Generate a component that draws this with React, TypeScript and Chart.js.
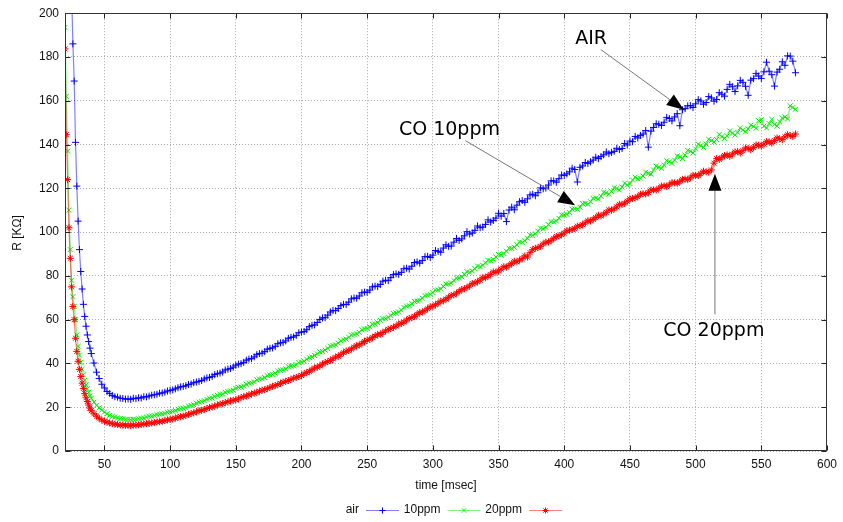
import { useEffect, useRef } from 'react';
import { Chart, registerables } from 'chart.js';

Chart.register(...registerables);

// ---- data (time in msec, resistance in KΩ) ----
const times = [
  20, 21, 22, 23, 24, 25, 26, 27, 28, 29, 30, 31, 32, 33, 34, 35, 36, 37, 38, 39, 40,
  42, 44, 46, 48, 50, 52, 54, 56, 58, 60, 62, 64, 66, 68, 70, 72, 74, 76, 78, 80, 82, 84, 86, 88, 90,
  92, 94, 96, 98, 100, 102, 104, 106, 108, 110, 112, 114, 116, 118, 120, 122, 124, 126, 128, 130, 132, 134, 136, 138, 140,
  142, 144, 146, 148, 150, 152, 154, 156, 158, 160, 162, 164, 166, 168, 170, 172, 174, 176, 178, 180, 182, 184, 186, 188, 190,
  192, 194, 196, 198, 200, 202, 204, 206, 208, 210, 212, 214, 216, 218, 220, 222, 224, 226, 228, 230, 232, 234, 236, 238, 240,
  242, 244, 246, 248, 250, 252, 254, 256, 258, 260, 262, 264, 266, 268, 270, 272, 274, 276, 278, 280, 282, 284, 286, 288, 290,
  292, 294, 296, 298, 300, 302, 304, 306, 308, 310, 312, 314, 316, 318, 320, 322, 324, 326, 328, 330, 332, 334, 336, 338, 340,
  342, 344, 346, 348, 350, 352, 354, 356, 358, 360, 362, 364, 366, 368, 370, 372, 374, 376, 378, 380, 382, 384, 386, 388, 390,
  392, 394, 396, 398, 400, 402, 404, 406, 408, 410, 412, 414, 416, 418, 420, 422, 424, 426, 428, 430, 432, 434, 436, 438, 440,
  442, 444, 446, 448, 450, 452, 454, 456, 458, 460, 462, 464, 466, 468, 470, 472, 474, 476, 478, 480, 482, 484, 486, 488, 490,
  492, 494, 496, 498, 500, 502, 504, 506, 508, 510, 512, 514, 516, 518, 520, 522, 524, 526, 528, 530, 532, 534, 536, 538, 540,
  542, 544, 546, 548, 550, 552, 554, 556, 558, 560, 562, 564, 566, 568, 570, 572, 574, 576,
];

const airValues = [
  330, 300, 272, 248, 228, 210, 186, 169, 141, 121, 105, 92, 82, 74, 67, 61.5, 57, 53, 50, 47, 44.5,
  40.2, 36, 33.1, 30.5, 28.8, 27.2, 26.3, 25.4, 24.8, 24.6, 24.1, 24, 23.7, 23.8, 23.6, 24.1, 23.9, 24.3, 24.2, 24.8, 24.7, 25.1, 25.5, 25.7, 25.9,
  26.4, 26.5, 26.9, 27.4, 27.7, 27.9, 28.4, 28.9, 29.3, 29.5, 29.8, 30.4, 30.6, 31.2, 31.5, 31.8, 32.2, 32.9, 33.4, 33.6, 34.1, 34.9, 35.3, 35.6, 36.1,
  37, 37.4, 37.7, 38.3, 39.2, 39.7, 39.9, 40.5, 41.5, 42, 42.2, 43, 44, 44.5, 44.7, 45.4, 46.5, 46.9, 47.1, 47.8, 49, 49.4, 49.6, 50.3, 51.5,
  51.9, 52.1, 52.8, 54, 54.3, 54.6, 55.4, 56.8, 57.4, 57.6, 58.7, 60.1, 60.8, 60.9, 62.1, 63.5, 64.2, 64.1, 65.1, 66.4, 67, 66.9, 68, 69.5, 69.9,
  69.8, 70.8, 72.3, 72.6, 72.5, 73.5, 75, 75.3, 75.1, 76.1, 77.6, 78, 77.8, 79.2, 80.6, 80.9, 80.7, 81.6, 83.3, 83.5, 83.1, 84.4, 86.1, 86.4, 85.8,
  87, 88.8, 88.9, 88.4, 89.5, 91.6, 91.2, 90.8, 92.7, 94.2, 93.5, 93.6, 95.4, 97.1, 96.2, 96.9, 98.3, 100.2, 99.1, 99.6, 100.8, 102.8, 102, 102.3, 103.5,
  105.6, 104.6, 105.3, 106.4, 108.6, 107.3, 108.5, 104.8, 110.1, 111.4, 110.2, 112.3, 113.9, 114.4, 113.6, 115.2, 117, 117.3, 116.6, 118, 120.2, 119.8, 120.1, 121.5, 123.4,
  123.4, 122.8, 124.4, 126.1, 125.9, 126.6, 127.5, 129.2, 128.6, 122.9, 129.6, 130.2, 131.8, 131.3, 132.1, 132.9, 134.2, 133.6, 134.5, 135.3, 136.6, 135.8, 136.4, 136.9, 138.3,
  137.7, 138.2, 140.5, 139.8, 141.6, 141.3, 143.7, 143, 144.2, 144.8, 146.4, 138.8, 146.1, 147.8, 149.5, 149.3, 148.7, 150.2, 152.4, 151.9, 150.8, 152.6, 154.1, 148.6, 155.9,
  156.4, 157.7, 157.8, 156.9, 158.6, 160.5, 159.9, 158.4, 159.2, 161.9, 161.3, 159.8, 160.6, 163.7, 163, 162.1, 165.2, 167.5, 166.4, 164.2, 166.8, 169.3, 168.4, 166.6, 162.5,
  169.4, 170.1, 172.5, 171.3, 170.2, 173.2, 177.6, 173.5, 171.9, 166.7, 173.1, 174.4, 177.8, 176.2, 180.5, 180.4, 178.1, 172.8,
];

const ppm10Values = [
  193.5, 162, 137, 110, 92, 78, 70.5, 66, 60, 53, 47.8, 43.8, 40.5, 37.3, 34.8, 32.3, 30.2, 28.4, 26.8, 25.3, 24.1,
  22.3, 20.9, 19.7, 18.7, 17.8, 17, 16.3, 15.8, 15.4, 15.1, 14.8, 14.7, 14.5, 14.4, 14.3, 14.5, 14.5, 14.7, 14.9, 15.1, 15.5, 15.8, 15.9, 16.2, 16.6,
  16.8, 16.9, 17.2, 17.7, 17.9, 18.1, 18.5, 19.1, 19.3, 19.5, 19.8, 20.5, 20.8, 21.1, 21.8, 22.3, 22.5, 23, 23.6, 24.1, 24.2, 24.9, 25.4, 25.9, 26,
  26.8, 27.2, 27.5, 27.8, 28.6, 29.1, 29.2, 29.7, 30.5, 31, 31.1, 31.6, 32.5, 32.9, 33, 33.5, 34.4, 34.8, 35, 35.5, 36.5, 36.9, 37.1, 37.5, 38.5,
  38.8, 38.9, 39.4, 40.4, 40.6, 41, 41.9, 42.7, 43, 43.6, 44.4, 45.3, 45.5, 46.1, 46.9, 47.9, 48.2, 48.5, 49.3, 50.4, 50.8, 51.1, 51.9, 53, 53.2,
  53.5, 54.2, 55.4, 55.8, 56, 56.7, 57.9, 58.1, 58.6, 59.7, 60.5, 60.4, 61, 61.9, 62.9, 63, 63.5, 64.4, 65.6, 66.2, 66.4, 67.3, 68.3, 68.6, 68.9,
  69.8, 71, 71.2, 71.5, 72.4, 73.5, 73.6, 74, 75.2, 76.3, 76.3, 76.8, 77.9, 79, 79.1, 79.6, 80.7, 81.9, 81.6, 82.2, 83.3, 84.5, 84.2, 84.8, 86,
  87.1, 86.9, 87.5, 88.6, 89.8, 89.5, 90.2, 91.3, 92.6, 92.5, 93.1, 94.2, 95.5, 95.3, 96.1, 97.2, 98.6, 98.5, 99.2, 100.4, 101.8, 101.5, 102.2, 103.4, 104.8,
  104.6, 105.1, 106.3, 107.9, 107.8, 108.1, 108.9, 110.5, 110.6, 110.4, 111.4, 113, 113.2, 112.7, 113.9, 115.4, 115.6, 115.1, 116.4, 118.2, 117.9, 117.3, 118.6, 120.3, 119.9,
  119.2, 120.6, 122.4, 121.5, 122.2, 123.8, 125.1, 124.3, 124.6, 125.6, 127.4, 126.8, 126.5, 128.4, 130.1, 129.7, 129.2, 130.5, 132.6, 132.1, 131.4, 132.9, 134.8, 134.3, 133.6,
  135.2, 137.3, 136.9, 136.1, 138, 140.1, 139.5, 138.7, 140.2, 142.4, 141.8, 141.1, 142.3, 144.6, 143.6, 142.8, 144, 146.2, 145.2, 144.3, 145.6, 147.6, 146.7, 145.8, 147.1,
  148.9, 148.3, 147.4, 150.9, 151.4, 148.4, 147.6, 149.6, 151.5, 149.2, 148.4, 150.3, 152.1, 152.6, 151.7, 157.7, 156.9, 156.1,
];

const ppm20Values = [
  183.7, 144.5, 124, 102, 88, 75, 66, 60, 51.5, 45.5, 41, 37.3, 34, 31, 28.6, 26.2, 24.3, 22.6, 21, 19.6, 18.4,
  17, 15.9, 14.9, 14.2, 13.6, 13.2, 12.8, 12.5, 12.2, 12.1, 11.9, 11.8, 11.7, 11.7, 11.6, 11.8, 11.8, 12, 12.1, 12.3, 12.5, 12.6, 12.8, 13, 13.3,
  13.4, 13.6, 13.9, 14.2, 14.4, 14.6, 15, 15.4, 15.7, 15.9, 16.3, 16.8, 17.1, 17.4, 17.9, 18.4, 18.6, 18.9, 19.4, 19.9, 20.1, 20.5, 21, 21.4, 21.6,
  22.1, 22.4, 22.9, 23.1, 23.4, 23.8, 24.4, 24.8, 25.1, 25.6, 26.1, 26.4, 26.8, 27.3, 27.8, 28, 28.5, 29, 29.6, 29.9, 30.3, 30.9, 31.5, 31.8, 32.2,
  32.7, 33.3, 33.6, 34, 34.5, 35.3, 35.8, 36.4, 37.2, 37.9, 38.3, 38.9, 39.7, 40.4, 40.8, 41.4, 42.1, 42.9, 43.3, 44, 44.9, 45.6, 45.9, 46.6, 47.4,
  48.1, 48.4, 49.2, 50, 50.7, 51, 51.8, 52.5, 53.2, 53.3, 54.1, 54.8, 55.6, 55.9, 56.5, 57.1, 58, 58.3, 58.9, 59.8, 60.6, 60.9, 61.5, 62.4, 63.2,
  63.5, 64.1, 65, 65.9, 66.1, 66.8, 67.5, 68.4, 68.6, 69.4, 70.2, 71.1, 71.3, 72.1, 72.9, 73.8, 74.1, 74.7, 75.4, 76.5, 76.7, 77.3, 78.1, 79.2, 79.2,
  79.9, 80.7, 81.8, 81.6, 82.3, 83.1, 84.2, 84, 84.8, 85.6, 86.7, 86.4, 87.2, 87.9, 89.1, 88.6, 90.6, 92, 92.6, 92.9, 93.5, 94.6, 95.4, 95.5, 96.1,
  97.1, 98, 98.2, 98.8, 99.6, 100.6, 100.9, 101.2, 101.6, 102.7, 102.8, 103.4, 104.2, 105.2, 105.1, 105.8, 106.6, 107.7, 107.4, 108.2, 109, 110.1, 110, 110.6, 111.5,
  112.7, 112.6, 113.2, 114.1, 115.2, 115.4, 115.6, 116.2, 117.3, 117.5, 117.4, 118.1, 119.2, 119.3, 119.2, 119.9, 121, 121.1, 120.8, 121.6, 122.6, 122.5, 122.3, 123.1, 124.1,
  124.2, 124, 124.8, 125.9, 125.9, 125.8, 126.7, 127.8, 127.5, 127.4, 128.4, 131.5, 133.6, 133.2, 134.1, 135, 135.3, 134.6, 135.6, 136.6, 136.8, 136.1, 137.2, 138.4, 138.3,
  137.6, 138.6, 139.8, 139.7, 139.3, 140.2, 141.3, 141.3, 140.6, 141.8, 143, 142.6, 142.2, 143.5, 144.5, 144.2, 143.7, 144.8,
];

const seriesLabels = ['air', '10ppm', '20ppm'];
const xTickValues = [50, 100, 150, 200, 250, 300, 350, 400, 450, 500, 550, 600];
const yTickValues = [0, 20, 40, 60, 80, 100, 120, 140, 160, 180, 200];
const xTitle = 'time [msec]';
const yTitle = 'R [KΩ]';

// annotation labels and arrows, in data coordinates
const annotationTexts = ['AIR', 'CO 10ppm', 'CO 20ppm'];
const annotationTextAt = [[420.5, 188], [312.6, 146.5], [513.9, 54.9]];
const annotationArrowFrom = [[427.8, 183.4], [324.7, 141.8], [514.7, 62.4]];
const annotationArrowTo = [[491, 155.9], [408.3, 112.3], [514.7, 126.7]];

const SMALL_FONT = '12px "Liberation Sans", Arial, sans-serif';
const BIG_FONT = '19px "DejaVu Sans", sans-serif';

const markerColors = ['#0000ff', '#00ee00', '#ff0000'];
const lineColors = ['rgba(0,0,255,0.5)', 'rgba(0,235,0,0.5)', 'rgba(255,0,0,0.5)'];
const markerStyles = ['cross', 'crossRot', 'star'];

function drawMarker(ctx: CanvasRenderingContext2D, style: string, cx: number, cy: number, r: number) {
  ctx.beginPath();
  if (style === 'cross' || style === 'star') {
    ctx.moveTo(cx - r, cy); ctx.lineTo(cx + r, cy);
    ctx.moveTo(cx, cy - r); ctx.lineTo(cx, cy + r);
  }
  if (style === 'crossRot' || style === 'star') {
    const d = r * 0.7071;
    ctx.moveTo(cx - d, cy - d); ctx.lineTo(cx + d, cy + d);
    ctx.moveTo(cx - d, cy + d); ctx.lineTo(cx + d, cy - d);
  }
  ctx.stroke();
}

const decorPlugin = {
  id: 'decor',
  afterDatasetsDraw(chart: any) {
    const { ctx, chartArea: a, scales } = chart;
    const x = scales.x;
    const y = scales.y;
    ctx.save();
    ctx.strokeStyle = '#222';
    ctx.lineWidth = 1;
    ctx.beginPath();
    const L = Math.round(a.left) + 0.5;
    const R = Math.round(a.right) - 0.5;
    const T = Math.round(a.top) + 0.5;
    const B = Math.round(a.bottom) - 0.5;
    xTickValues.forEach((v) => {
      const px = Math.round(x.getPixelForValue(v)) + 0.5;
      ctx.moveTo(px, B); ctx.lineTo(px, B - 5);
      ctx.moveTo(px, T); ctx.lineTo(px, T + 5);
    });
    yTickValues.forEach((v) => {
      const py = Math.round(y.getPixelForValue(v)) + 0.5;
      ctx.moveTo(L, py); ctx.lineTo(L + 5, py);
      ctx.moveTo(R, py); ctx.lineTo(R - 5, py);
    });
    ctx.stroke();
    ctx.strokeStyle = '#333';
    ctx.strokeRect(L, T, R - L, B - T);

    ctx.font = BIG_FONT;
    ctx.textAlign = 'center';
    ctx.textBaseline = 'middle';
    annotationTexts.forEach((txt, i) => {
      const tx = x.getPixelForValue(annotationTextAt[i][0]);
      const ty = y.getPixelForValue(annotationTextAt[i][1]);
      ctx.fillStyle = '#000';
      ctx.fillText(txt, tx, ty);
      const x0 = x.getPixelForValue(annotationArrowFrom[i][0]);
      const y0 = y.getPixelForValue(annotationArrowFrom[i][1]);
      const x1 = x.getPixelForValue(annotationArrowTo[i][0]);
      const y1 = y.getPixelForValue(annotationArrowTo[i][1]);
      const ang = Math.atan2(y1 - y0, x1 - x0);
      const hl = 17;
      const hw = 6.5;
      const bx = x1 - hl * Math.cos(ang);
      const by = y1 - hl * Math.sin(ang);
      ctx.strokeStyle = '#777';
      ctx.lineWidth = 1;
      ctx.beginPath();
      ctx.moveTo(x0, y0);
      ctx.lineTo(bx, by);
      ctx.stroke();
      ctx.fillStyle = '#000';
      ctx.beginPath();
      ctx.moveTo(x1, y1);
      ctx.lineTo(bx + hw * Math.sin(ang), by - hw * Math.cos(ang));
      ctx.lineTo(bx - hw * Math.sin(ang), by + hw * Math.cos(ang));
      ctx.closePath();
      ctx.fill();
    });
    ctx.restore();
  },
  afterDraw(chart: any) {
    const { ctx, chartArea: a } = chart;
    ctx.save();
    ctx.font = SMALL_FONT;
    ctx.fillStyle = '#111';
    ctx.textAlign = 'center';
    ctx.textBaseline = 'middle';
    ctx.fillText(xTitle, (a.left + a.right) / 2, 486);
    ctx.save();
    ctx.translate(18, 233);
    ctx.rotate(-Math.PI / 2);
    ctx.fillText(yTitle, 0, 0);
    ctx.restore();
    let right = 359;
    const ly = 510;
    chart.data.datasets.forEach((ds: any, i: number) => {
      ctx.textAlign = 'right';
      ctx.fillStyle = '#111';
      ctx.fillText(ds.label, right, ly);
      const s0 = right + 7;
      const s1 = right + 40;
      ctx.strokeStyle = lineColors[i];
      ctx.lineWidth = 1;
      ctx.beginPath();
      ctx.moveTo(s0, ly + 0.5);
      ctx.lineTo(s1, ly + 0.5);
      ctx.stroke();
      ctx.strokeStyle = markerColors[i];
      drawMarker(ctx, markerStyles[i], (s0 + s1) / 2, ly + 0.5, 3);
      right += 81.5;
    });
    ctx.restore();
  },
};

export default function App() {
  const canvasRef = useRef<HTMLCanvasElement | null>(null);

  useEffect(() => {
    const canvas = canvasRef.current;
    if (!canvas) return;
    const series = [airValues, ppm10Values, ppm20Values];
    const chart = new Chart(canvas, {
      type: 'line',
      data: {
        datasets: series.map((vals, i) => ({
          label: seriesLabels[i],
          data: times.map((t, k) => ({ x: t, y: vals[k] })),
          borderColor: lineColors[i],
          borderWidth: 1.2,
          pointStyle: markerStyles[i] as any,
          pointRadius: 3.5,
          pointHoverRadius: 3.5,
          pointBorderWidth: 1,
          pointBorderColor: markerColors[i],
          pointBackgroundColor: markerColors[i],
          tension: 0,
          order: 2 - i,
        })),
      },
      options: {
        responsive: false,
        animation: false,
        events: [],
        layout: { padding: { top: 10, right: 15, left: 0, bottom: 0 } },
        plugins: { legend: { display: false }, tooltip: { enabled: false } },
        scales: {
          x: {
            type: 'linear',
            min: 20,
            max: 600,
            afterBuildTicks: (scale: any) => {
              scale.ticks = xTickValues.map((v) => ({ value: v }));
            },
            afterFit: (scale: any) => {
              scale.height = 71;
            },
            ticks: {
              font: { family: '"Liberation Sans", Arial, sans-serif', size: 12 },
              color: '#111',
              padding: 6,
              maxRotation: 0,
              autoSkip: false,
            },
            grid: { color: '#a8a8a8', drawTicks: false, lineWidth: 1 },
            border: { display: false, dash: [1, 2] },
          },
          y: {
            type: 'linear',
            min: 0,
            max: 200,
            afterBuildTicks: (scale: any) => {
              scale.ticks = yTickValues.map((v) => ({ value: v }));
            },
            afterFit: (scale: any) => {
              scale.width = 65;
            },
            ticks: {
              font: { family: '"Liberation Sans", Arial, sans-serif', size: 12 },
              color: '#111',
              padding: 6,
              autoSkip: false,
            },
            grid: { color: '#a8a8a8', drawTicks: false, lineWidth: 1 },
            border: { display: false, dash: [1, 2] },
          },
        },
      },
      plugins: [decorPlugin],
    });
    return () => chart.destroy();
  }, []);

  return (
    <div style={{ position: 'absolute', left: 0, top: 0, width: 843, height: 522, background: '#fff' }}>
      <canvas ref={canvasRef} width={843} height={522} />
    </div>
  );
}
